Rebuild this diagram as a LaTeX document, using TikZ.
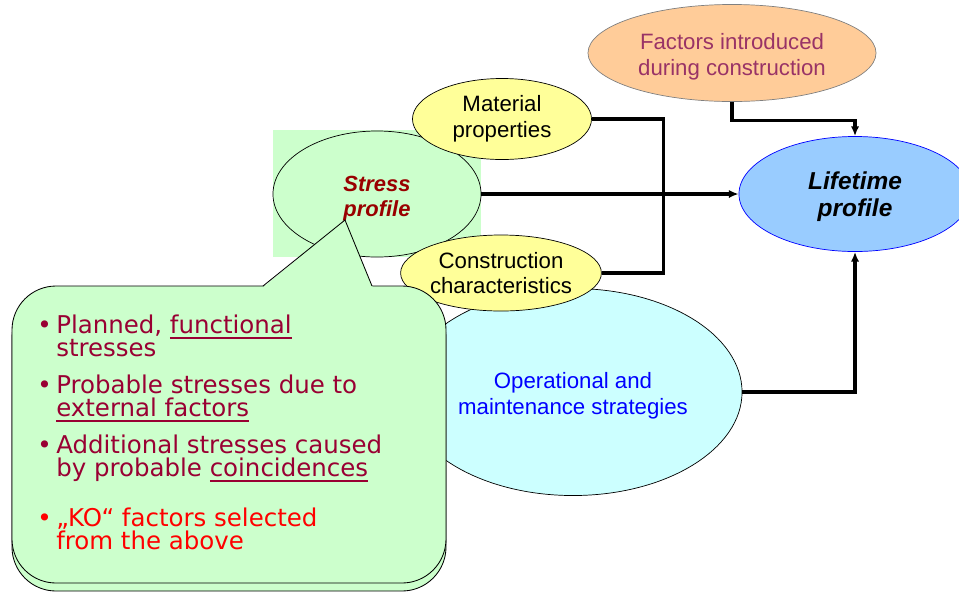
\documentclass[tikz,border=0pt]{standalone}
\usepackage{fontspec}
\setmainfont{Liberation Sans}
\newfontfamily\notefont{DejaVu Sans}
\usetikzlibrary{positioning,arrows.meta,shapes.geometric}
\definecolor{mint}{RGB}{204,255,204}
\definecolor{lemon}{RGB}{255,255,153}
\definecolor{peach}{RGB}{255,204,153}
\definecolor{sky}{RGB}{153,204,255}
\definecolor{ice}{RGB}{204,255,255}
\definecolor{plum}{RGB}{153,51,102}
\definecolor{maroon}{RGB}{153,0,0}
\definecolor{crimson}{RGB}{153,0,51}
\newcommand{\dotitem}{\makebox[13.5pt][l]{\textbullet}}
\newcommand{\hang}{\hspace*{13.5pt}}
\newcommand{\lift}{\rule{0pt}{17pt}}
\newcommand{\undl}[1]{\setbox0\hbox{#1}\rlap{\rule[-3.6pt]{\wd0}{1.3pt}}\box0}
\newcommand{\notestyle}{\notefont\fontsize{17.4}{16.3}\selectfont\lineskiplimit=-20pt\relax}

\begin{document}
\begin{tikzpicture}[x=0.025cm,y=-0.025cm,>={Latex[length=7pt,width=6pt]},
    blob/.style={ellipse,draw,line width=0.5pt,inner sep=0pt,align=center,font=\fontsize{15.8}{18.4}\selectfont},
    link/.style={line width=2.2pt},
    bubble/.style={draw,fill=mint,line width=0.6pt}]
  \clip (0,0) rectangle (959,594);
  \fill[mint] (273,130) rectangle (481,257);
  \node[blob,fill=mint,minimum width=5.2cm,minimum height=3.15cm,text=maroon,
    font=\fontsize{15.6}{17.9}\selectfont\bfseries\itshape] (stress) at (377,194) {\lift Stress\\profile};
  \node[blob,fill=ice,minimum width=8.45cm,minimum height=5.175cm,text=blue] (operation) at (573,392)
    {\lift Operational and\\maintenance strategies};
  \node[blob,fill=lemon,minimum width=4.475cm,minimum height=2.025cm] (material) at (502,119) {Material\\properties};
  \node[blob,fill=lemon,minimum width=4.55cm,minimum height=1.9cm] (construct) at (501,273)
    {Construction\\characteristics};
  \node[blob,fill=peach,draw=gray,minimum width=7.2cm,minimum height=2.425cm,text=plum] (factors) at (732,53)
    {\lift Factors introduced\\during construction};
  \node[blob,fill=sky,draw=blue,minimum width=5.8cm,minimum height=2.875cm,
    font=\fontsize{17.4}{19.1}\selectfont\bfseries\itshape] (lifetime) at (855,194) {\lift Lifetime\\profile};
  \draw[link] (material.east) -- ++(72,0) |- (construct.east);
  \draw[link,->] (stress.east) -- (lifetime.west);
  \draw[link,->] (factors.south) -- ++(0,19) -| (lifetime.north);
  \draw[link,->] (operation.east) -| (lifetime.south);
  \draw[bubble,rounded corners=1.1cm] (12,294) rectangle (446,591);
  \draw[bubble,rounded corners=1.1cm] (12,286) rectangle (446,583);
  \fill[mint] (262,288) -- (345,220) -- (373,288) -- cycle;
  \draw[line width=0.6pt] (263,286) -- (345,220) -- (372,286);
  \node[anchor=north west,inner sep=0pt,align=left,text=crimson,font=\notestyle] (notes) at (37,315)
    {\dotitem Planned, \undl{functional}\\
     \hang stresses\\[10pt]
     \dotitem Probable stresses due to\\
     \hang \undl{external factors}\\[10pt]
     \dotitem Additional stresses caused\\
     \hang by probable \undl{coincidences}\\[19pt]
     \textcolor{red}{\dotitem „KO“ factors selected}\\
     \hang \textcolor{red}{from the above}};
\end{tikzpicture}
\end{document}
